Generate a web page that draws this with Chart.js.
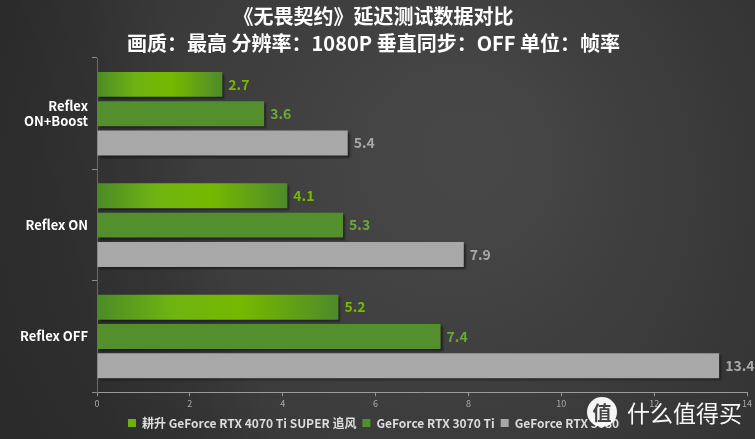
<!DOCTYPE html>
<html>
<head>
<meta charset="utf-8">
<script src="https://cdn.jsdelivr.net/npm/chart.js@4/dist/chart.umd.min.js"></script>
<style>
    html, body { margin: 0; padding: 0; background: #333; }
    #wrap { width: 755px; height: 439px; }
</style>
</head>
<body>
<div id="wrap"><canvas id="latency-chart"></canvas></div>
<script>
const categories = [["Reflex", "ON+Boost"], "Reflex ON", "Reflex OFF"];
const seriesNames = ["耕升 GeForce RTX 4070 Ti SUPER 追风", "GeForce RTX 3070 Ti", "GeForce RTX 3080"];
const rtx4070TiSuper = [2.7, 4.1, 5.2];
const rtx3070Ti = [3.6, 5.3, 7.4];
const rtx3080 = [5.4, 7.9, 13.4];
const xTicks = [0, 2, 4, 6, 8, 10, 12, 14];
const titleLines = ["《无畏契约》延迟测试数据对比", "画质：最高 分辨率：1080P 垂直同步：OFF 单位：帧率"];

const cjkFont = "'Noto Sans CJK SC', 'Noto Sans', sans-serif";
const labelColors = ["#76b900", "#6aa83a", "#a9a9a9"];

// bright-in-the-middle green gradient for the first series
function greenGradient(context) {
    const chart = context.chart;
    const xScale = chart.scales.x;
    if (!xScale || context.raw == null) return "#6fb010";
    const x0 = xScale.getPixelForValue(0);
    const x1 = xScale.getPixelForValue(context.raw);
    if (!isFinite(x0) || !isFinite(x1) || x1 <= x0) return "#6fb010";
    const g = chart.ctx.createLinearGradient(x0, 0, x1, 0);
    g.addColorStop(0, "#4c8a26");
    g.addColorStop(0.3, "#6eb312");
    g.addColorStop(0.6, "#76b900");
    g.addColorStop(1, "#4e8a2a");
    return g;
}

const backgroundPlugin = {
    id: "bg",
    beforeDraw(chart) {
        const ctx = chart.ctx;
        const w = chart.width, h = chart.height;
        ctx.save();
        const g = ctx.createRadialGradient(w * 0.62, h * 0.35, 40, w * 0.5, h * 0.5, w * 0.7);
        g.addColorStop(0, "#474747");
        g.addColorStop(1, "#2e2e2e");
        ctx.fillStyle = g;
        ctx.fillRect(0, 0, w, h);
        // darker diagonal band on the left side
        const side = ctx.createLinearGradient(0, 0, 150, -40);
        side.addColorStop(0, "rgba(0,0,0,0.16)");
        side.addColorStop(0.55, "rgba(0,0,0,0.1)");
        side.addColorStop(1, "rgba(0,0,0,0)");
        ctx.fillStyle = side;
        ctx.fillRect(0, 0, w, h);
        ctx.restore();
    },
    beforeDatasetsDraw(chart) {
        const ctx = chart.ctx;
        ctx.save();
        ctx.shadowColor = "rgba(0,0,0,0.45)";
        ctx.shadowOffsetX = 2;
        ctx.shadowOffsetY = 2;
        ctx.shadowBlur = 2;
    },
    afterDatasetsDraw(chart) {
        chart.ctx.restore();
        const ctx = chart.ctx;
        ctx.save();
        ctx.font = "bold 14px " + cjkFont;
        ctx.textBaseline = "middle";
        ctx.textAlign = "left";
        chart.data.datasets.forEach((ds, di) => {
            const meta = chart.getDatasetMeta(di);
            if (meta.hidden) return;
            meta.data.forEach((bar, i) => {
                ctx.fillStyle = labelColors[di];
                ctx.fillText(ds.data[i].toFixed(1), bar.x + 6, bar.y);
            });
        });
        ctx.restore();
    },
    afterDraw(chart) {
        // site watermark
        const ctx = chart.ctx;
        ctx.save();
        ctx.fillStyle = "rgba(255,255,255,0.95)";
        ctx.beginPath();
        ctx.arc(602, 412, 15, 0, Math.PI * 2);
        ctx.fill();
        ctx.fillStyle = "#444444";
        ctx.font = "bold 19px " + cjkFont;
        ctx.textAlign = "center";
        ctx.textBaseline = "middle";
        ctx.fillText("值", 602, 413);
        ctx.fillStyle = "rgba(255,255,255,0.96)";
        ctx.font = "23px " + cjkFont;
        ctx.textAlign = "left";
        ctx.fillText("什么值得买", 627, 413);
        ctx.restore();
    },
};

new Chart(document.getElementById("latency-chart"), {
    type: "bar",
    data: {
        labels: categories,
        datasets: [
            {
                label: seriesNames[0],
                data: rtx4070TiSuper,
                backgroundColor: greenGradient,
                borderWidth: 0,
            },
            {
                label: seriesNames[1],
                data: rtx3070Ti,
                backgroundColor: "#548f2e",
                borderWidth: 0,
            },
            {
                label: seriesNames[2],
                data: rtx3080,
                backgroundColor: "#a8a8a8",
                borderWidth: 0,
            },
        ],
    },
    options: {
        indexAxis: "y",
        responsive: true,
        maintainAspectRatio: false,
        animation: false,
        devicePixelRatio: 1,
        categoryPercentage: 0.79,
        barPercentage: 0.85,
        layout: {
            padding: { left: 0, right: 8, top: 0, bottom: 0 },
        },
        scales: {
            x: {
                min: 0,
                max: 14,
                afterBuildTicks(scale) {
                    scale.ticks = xTicks.map((v) => ({ value: v }));
                },
                grid: {
                    display: true,
                    drawOnChartArea: false,
                    drawTicks: true,
                    tickLength: 4,
                    color: "#9a9a9a",
                },
                border: { color: "#9a9a9a" },
                ticks: {
                    color: "#aaaaaa",
                    font: { size: 9, family: cjkFont },
                    padding: 2,
                },
            },
            y: {
                afterFit(scale) {
                    scale.width = 97;
                },
                grid: {
                    display: true,
                    drawOnChartArea: false,
                    tickLength: 5,
                    color: "#8a8a8a",
                },
                border: { color: "#6a6a6a" },
                ticks: {
                    color: "#ffffff",
                    font: { size: 13, weight: "bold", family: cjkFont },
                    padding: 4,
                },
            },
        },
        plugins: {
            title: {
                display: true,
                text: titleLines,
                color: "#ffffff",
                font: { size: 20, weight: "bold", family: cjkFont, lineHeight: 1.35 },
                padding: { top: 3, bottom: 1 },
            },
            legend: {
                position: "bottom",
                labels: {
                    color: "#dddddd",
                    boxWidth: 8,
                    boxHeight: 8,
                    padding: 6,
                    font: { size: 12, weight: "bold", family: cjkFont },
                    generateLabels(chart) {
                        const fills = ["#6fb010", "#548f2e", "#a8a8a8"];
                        return chart.data.datasets.map((ds, i) => ({
                            text: ds.label,
                            fillStyle: fills[i],
                            strokeStyle: fills[i],
                            fontColor: "#dddddd",
                            lineWidth: 0,
                            hidden: !chart.isDatasetVisible(i),
                            datasetIndex: i,
                        }));
                    },
                },
            },
            tooltip: { enabled: false },
        },
    },
    plugins: [backgroundPlugin],
});
</script>
</body>
</html>
